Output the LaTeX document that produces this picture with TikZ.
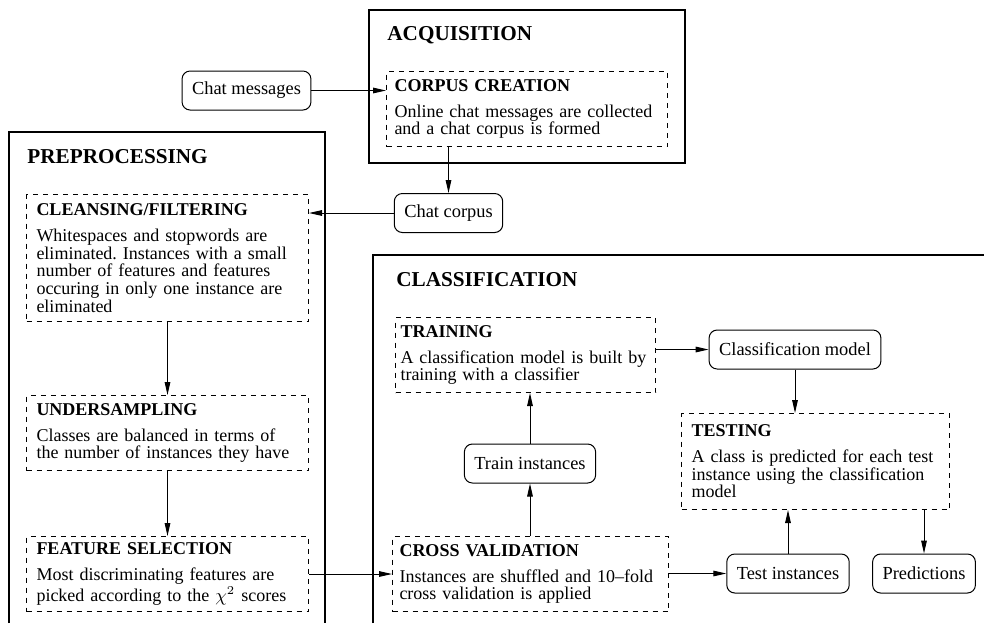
\documentclass[tikz,border=0pt]{standalone}
\usepackage{fontspec}
\setmainfont{Liberation Serif}
\usetikzlibrary{arrows.meta}
\tikzset{
    x={0.5pt},
    y={-0.5pt},
    phase frame/.style={
        draw=black,
        line width={0.7pt},
    },
    phase label/.style={
        font={\fontsize{10.6}{12}\selectfont\bfseries},
        anchor=base west,
        inner sep=0pt,
    },
    stage box/.style n args={3}{
        draw=black, dash pattern={on 2.5pt off 2.5pt},
        line width={0.5pt},
        anchor=north west,
        align=left,
        font={\fontsize{9}{8.8}\selectfont\frenchspacing},
        text width={#1},
        inner xsep={#2}, inner ysep=0pt,
        minimum height={#3},
    },
    data box/.style={
        draw=black, rounded corners={4pt},
        line width={0.5pt},
        font={\fontsize{9.2}{8.8}\selectfont},
        inner xsep=5pt, inner ysep=0pt,
        minimum height={19.5pt},
    },
    flow/.style={
        draw=black,
        line width={0.5pt},
        -{Triangle[length=6.5pt,width=2.8pt]},
    },
}

\begin{document}
\begin{tikzpicture}
\useasboundingbox (0,0) rectangle (984,623);
% frames
\draw[phase frame] (369,10) rectangle (685,163);
\draw[phase frame] (9,623) -- (9,132) -- (325,132) -- (325,623);
\draw[phase frame] (373,623) -- (373,255) -- (984,255);
\node[phase label] (acquisition) at (387,40) {ACQUISITION};
\node[phase label] (preprocessing) at (27,163) {PREPROCESSING};
\node[phase label] (classification) at (396,286) {CLASSIFICATION};
% stages
\node[stage box={132.5pt}{4pt}{37.5pt}] (corpus) at (386,71)
    {\textbf{CORPUS CREATION}\\[4.2pt]Online chat messages are collected\\and a chat corpus is formed};
\node[stage box={131pt}{5pt}{63.5pt}] (cleanse) at (26,194)
    {\textbf{CLEANSING/FILTERING}\\[4.2pt]Whitespaces and stopwords are\\eliminated. Instances with a small\\number of features and features\\occuring in only one instance are\\eliminated};
\node[stage box={131pt}{5pt}{37.5pt}] (under) at (26,395)
    {\textbf{UNDERSAMPLING}\\[4.2pt]Classes are balanced in terms of\\the number of instances they have};
\node[stage box={131pt}{5pt}{37.5pt}] (featsel) at (26,536)
    {\textbf{FEATURE SELECTION}\\[4.2pt]Most discriminating features are\\picked according to the $\chi^{2}$ scores};
\node[stage box={125pt}{2.5pt}{37.5pt}] (train) at (395,317)
    {\textbf{TRAINING}\\[4.2pt]A classification model is built by\\training with a classifier};
\node[stage box={131pt}{3.5pt}{37.5pt}] (cv) at (392,536)
    {\textbf{CROSS VALIDATION}\\[4.2pt]Instances are shuffled and 10--fold\\cross validation is applied};
\node[stage box={124pt}{5pt}{48pt}] (test) at (681,413)
    {\textbf{TESTING}\\[4.2pt]A class is predicted for each test\\instance using the classification\\model};
% data
\node[data box] (msgs) at (246.5,90.5) {Chat messages};
\node[data box] (corpusnode) at (448.5,213) {Chat corpus};
\node[data box] (model) at (795,349.5) {Classification model};
\node[data box] (trainin) at (530,463.5) {Train instances};
\node[data box] (testin) at (788,573.5) {Test instances};
\node[data box] (pred) at (924,573.5) {Predictions};
% flows
\draw[flow] (msgs.east) -- (msgs.east -| corpus.west);
\draw[flow] (corpusnode.north |- corpus.south) -- (corpusnode.north);
\draw[flow] (corpusnode.west) -- (corpusnode.west -| cleanse.east);
\draw[flow] (cleanse.south) -- (under.north);
\draw[flow] (under.south) -- (featsel.north);
\draw[flow] (featsel.east) -- (featsel.east -| cv.west);
\draw[flow] (trainin.south |- cv.north) -- (trainin.south);
\draw[flow] (trainin.north) -- (trainin.north |- train.south);
\draw[flow] (train.east |- model) -- (model.west);
\draw[flow] (model.south) -- (model.south |- test.north);
\draw[flow] (cv.east |- testin) -- (testin.west);
\draw[flow] (testin.north) -- (testin.north |- test.south);
\draw[flow] (pred.north |- test.south) -- (pred.north);
\end{tikzpicture}
\end{document}
